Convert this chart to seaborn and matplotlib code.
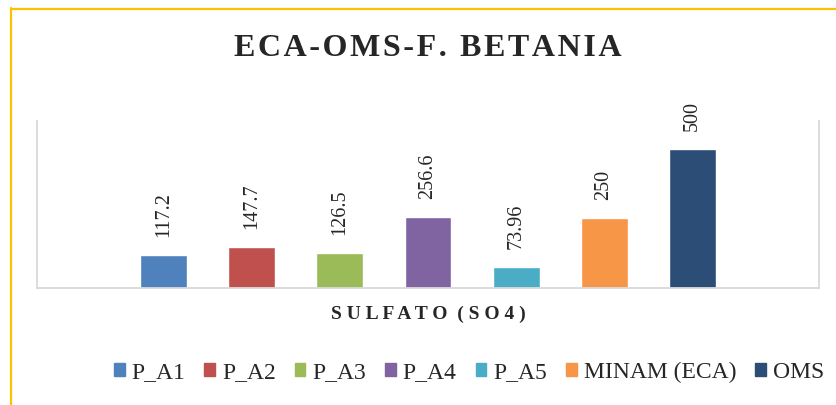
import pandas as pd
import numpy as np
import matplotlib
matplotlib.use("Agg")
import matplotlib.pyplot as plt
import seaborn as sns
from matplotlib.lines import Line2D

# data
parametro = "SULFATO (SO4)"
puntos = ["P_A1", "P_A2", "P_A3", "P_A4", "P_A5", "MINAM (ECA)", "OMS"]
valores = [117.2, 147.7, 126.5, 256.6, 73.96, 250, 500]
colores = ["#4F81BD", "#C0504D", "#9BBB59", "#8064A2", "#4BACC6", "#F79646", "#2C4D75"]

df = pd.DataFrame({"Parametro": [parametro] * len(puntos), "Punto": puntos, "Valor": valores})

sns.set_style("white")
plt.rcParams["font.family"] = ["Liberation Serif", "DejaVu Serif"]

fig = plt.figure(figsize=(8.37, 4.05), dpi=100)
ax = fig.add_axes([37 / 837, 1 - 288 / 405, (819 - 37) / 837, (288 - 121) / 405])

sns.barplot(data=df, x="Parametro", y="Valor", hue="Punto", hue_order=puntos,
            palette=colores, width=0.7, gap=0.466, saturation=1, ax=ax, legend=False)

for c in ax.containers:
    ax.bar_label(c, fmt="%g", rotation=90, padding=13, fontsize=14.5)

ax.set_ylim(0, 600)
ax.set_xlim(-0.4443, 0.4443)
ax.set_yticks([])
ax.set_ylabel("")
ax.set_xlabel("")
ax.set_xticks([0])
ax.set_xticklabels([" ".join(parametro).replace("   ", "  ")], fontsize=14, fontweight="bold")
ax.tick_params(axis="x", length=0, pad=13)
for s in ["left", "right", "bottom"]:
    ax.spines[s].set_color("#d9d9d9")
    ax.spines[s].set_linewidth(1.3)
ax.spines["top"].set_visible(False)

titulo = "ECA-OMS-F. BETANIA"
fig.text(428 / 837, 1 - 49 / 405, "\u200a".join(titulo), ha="center", va="center",
         fontsize=23, fontweight="bold")

handles = [plt.Rectangle((0, 0), 1, 1, color=c) for c in colores]
fig.legend(handles, puntos, loc="center", bbox_to_anchor=(469 / 837, 1 - 372 / 405),
           ncol=7, frameon=False, fontsize=17, handlelength=0.45, handleheight=0.45,
           handletextpad=0.3, columnspacing=0.8, borderaxespad=0, borderpad=0)

# yellow chart border
fig.add_artist(Line2D([11.5 / 837, 11.5 / 837], [0, 1 - 8 / 405], color="#FFC000", lw=1.6))
fig.add_artist(Line2D([11 / 837, 1], [1 - 8.5 / 405, 1 - 8.5 / 405], color="#FFC000", lw=1.6))

fig.savefig("out.png", dpi=100)
